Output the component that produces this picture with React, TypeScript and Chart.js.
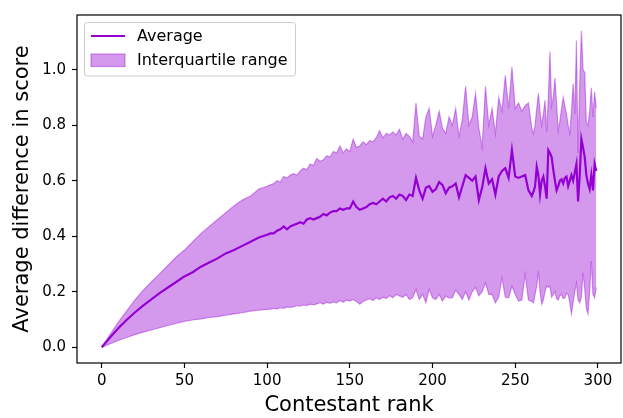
import React, { useEffect, useRef } from "react";
import { Chart, registerables } from "chart.js";

Chart.register(...registerables);

// Contestant ranks (x values)
const ranks = [
  0, 5, 10, 15, 20, 25, 30, 35, 40, 45, 50, 55, 60, 65, 70, 75, 80, 85, 90, 95, 100,
  102, 104, 106, 108, 110, 112, 114, 116, 118, 120, 122, 124, 126, 128, 130, 132, 134, 136, 138, 140,
  142, 144, 146, 148, 150, 152, 154, 156, 158, 160, 162, 164, 166, 168, 170, 172, 174, 176, 178, 180,
  182, 184, 186, 188, 190, 192, 194, 196, 198, 200, 202, 204, 206, 208, 210, 212, 214, 216, 218, 220,
  222, 224, 226, 228, 230, 232, 234, 236, 238, 240, 242, 244, 246, 248, 250, 252, 254, 256, 258, 260,
  261, 262, 263, 264, 265, 266, 267, 268, 269, 270, 271, 272, 273, 274, 275, 276, 277, 278, 279, 280,
  281, 282, 283, 284, 285, 286, 287, 288, 289, 290, 291, 292, 293, 294, 295, 296, 297, 298, 299,
];

// Average difference in score
const average = [
  0, 0.035, 0.068, 0.098, 0.125, 0.15, 0.172, 0.195, 0.215, 0.235, 0.255, 0.27, 0.29, 0.305, 0.32, 0.338, 0.35, 0.365, 0.38, 0.395, 0.405,
  0.41, 0.41, 0.42, 0.425, 0.435, 0.425, 0.435, 0.44, 0.445, 0.45, 0.445, 0.46, 0.465, 0.46, 0.465, 0.47, 0.48, 0.475, 0.485, 0.49,
  0.49, 0.5, 0.495, 0.5, 0.5, 0.525, 0.505, 0.495, 0.5, 0.505, 0.515, 0.52, 0.515, 0.525, 0.535, 0.525, 0.54, 0.545, 0.535, 0.55,
  0.545, 0.53, 0.55, 0.545, 0.61, 0.565, 0.535, 0.575, 0.58, 0.56, 0.57, 0.595, 0.585, 0.555, 0.575, 0.58, 0.59, 0.54, 0.58, 0.62,
  0.61, 0.6, 0.615, 0.53, 0.575, 0.645, 0.59, 0.605, 0.55, 0.615, 0.635, 0.645, 0.61, 0.71, 0.615, 0.61, 0.615, 0.62, 0.565, 0.545,
  0.56, 0.58, 0.65, 0.62, 0.55, 0.6, 0.615, 0.58, 0.535, 0.71, 0.7, 0.685, 0.64, 0.6, 0.565, 0.58, 0.6, 0.605, 0.59, 0.61,
  0.615, 0.58, 0.6, 0.62, 0.6, 0.63, 0.66, 0.525, 0.62, 0.75, 0.72, 0.685, 0.62, 0.59, 0.57, 0.62, 0.565, 0.66, 0.635,
];

// Lower quartile (Q1)
const q1 = [
  0, 0.012, 0.024, 0.035, 0.045, 0.054, 0.062, 0.07, 0.078, 0.086, 0.093, 0.098, 0.102, 0.107, 0.11, 0.115, 0.12, 0.124, 0.13, 0.133, 0.136,
  0.137, 0.14, 0.138, 0.142, 0.14, 0.145, 0.143, 0.146, 0.15, 0.148, 0.152, 0.15, 0.155, 0.152, 0.156, 0.16, 0.155, 0.162, 0.158, 0.163,
  0.16, 0.168, 0.162, 0.17, 0.166, 0.172, 0.165, 0.155, 0.165, 0.17, 0.175, 0.168, 0.178, 0.172, 0.18, 0.175, 0.185, 0.178, 0.19, 0.185,
  0.18, 0.19, 0.172, 0.178, 0.208, 0.172, 0.19, 0.16, 0.208, 0.178, 0.172, 0.19, 0.166, 0.184, 0.178, 0.178, 0.205, 0.19, 0.172, 0.2,
  0.17, 0.2, 0.215, 0.185, 0.2, 0.232, 0.19, 0.19, 0.16, 0.18, 0.25, 0.18, 0.178, 0.22, 0.19, 0.166, 0.17, 0.262, 0.17, 0.165,
  0.16, 0.19, 0.22, 0.273, 0.2, 0.155, 0.17, 0.2, 0.22, 0.215, 0.22, 0.18, 0.19, 0.2, 0.175, 0.17, 0.185, 0.19, 0.175, 0.178,
  0.195, 0.19, 0.16, 0.12, 0.16, 0.2, 0.23, 0.17, 0.16, 0.18, 0.268, 0.21, 0.14, 0.12, 0.2, 0.31, 0.19, 0.178, 0.215,
];

// Upper quartile (Q3)
const q3 = [
  0, 0.045, 0.09, 0.13, 0.17, 0.205, 0.235, 0.265, 0.295, 0.325, 0.35, 0.38, 0.41, 0.435, 0.46, 0.485, 0.51, 0.53, 0.545, 0.57, 0.58,
  0.585, 0.59, 0.6, 0.595, 0.615, 0.61, 0.62, 0.625, 0.62, 0.635, 0.645, 0.64, 0.66, 0.655, 0.68, 0.67, 0.675, 0.69, 0.685, 0.705,
  0.7, 0.725, 0.7, 0.715, 0.705, 0.75, 0.72, 0.725, 0.74, 0.73, 0.745, 0.74, 0.755, 0.78, 0.755, 0.77, 0.765, 0.775, 0.765, 0.785,
  0.75, 0.77, 0.76, 0.74, 0.88, 0.76, 0.75, 0.83, 0.86, 0.76, 0.8, 0.85, 0.79, 0.77, 0.83, 0.8, 0.86, 0.76, 0.82, 0.94,
  0.8, 0.83, 0.915, 0.79, 0.72, 0.94, 0.8, 0.86, 0.77, 0.9, 0.85, 0.98, 0.86, 1.01, 0.86, 0.88, 0.85, 0.87, 0.88, 0.79,
  0.77, 0.8, 0.86, 0.915, 0.85, 0.8, 0.84, 0.89, 0.776, 0.9, 1.065, 0.87, 0.9, 0.97, 0.88, 0.78, 0.815, 0.86, 0.9, 0.87,
  0.84, 0.8, 0.77, 0.85, 0.95, 0.84, 1.105, 0.7, 0.95, 1.14, 1.0, 0.99, 0.81, 0.8, 0.85, 0.935, 0.83, 0.92, 0.86,
];

const xTicks = [0, 50, 100, 150, 200, 250, 300];
const yTicks = [0, 0.2, 0.4, 0.6, 0.8, 1.0];
const seriesLabels = ["Average", "Interquartile range"];
const xTitle = "Contestant rank";
const yTitle = "Average difference in score";

const FONT = "'DejaVu Sans', sans-serif";
const VIOLET = "#9400d3";
const BAND = "rgba(148,0,211,0.4)";

export default function App() {
  const ref = useRef<HTMLCanvasElement>(null);

  useEffect(() => {
    document.body.style.margin = "0";
    const canvas = ref.current;
    if (!canvas) return;

    const framePlugin = {
      id: "frame",
      afterDatasetsDraw(chart: any) {
        const { ctx } = chart;
        const { left, top, right, bottom } = chart.chartArea;
        ctx.save();
        ctx.strokeStyle = "#000";
        ctx.lineWidth = 1.2;
        ctx.strokeRect(left, top, right - left, bottom - top);
        ctx.restore();
      },
    };

    const legendPlugin = {
      id: "mplLegend",
      afterDraw(chart: any) {
        const { ctx } = chart;
        const { left, top } = chart.chartArea;
        const bx = left + 7.5;
        const by = top + 7.5;
        const bw = 211;
        const bh = 53.5;
        ctx.save();
        ctx.beginPath();
        if ((ctx as any).roundRect) (ctx as any).roundRect(bx, by, bw, bh, 3);
        else ctx.rect(bx, by, bw, bh);
        ctx.fillStyle = "rgba(255,255,255,0.8)";
        ctx.fill();
        ctx.strokeStyle = "#cccccc";
        ctx.lineWidth = 1;
        ctx.stroke();

        // line sample
        ctx.beginPath();
        ctx.moveTo(bx + 6.5, by + 13.5);
        ctx.lineTo(bx + 40.5, by + 13.5);
        ctx.strokeStyle = VIOLET;
        ctx.lineWidth = 2.2;
        ctx.stroke();

        // patch sample
        ctx.fillStyle = BAND;
        ctx.fillRect(bx + 6.5, by + 31.5, 34, 12.5);
        ctx.strokeStyle = BAND;
        ctx.lineWidth = 1.2;
        ctx.strokeRect(bx + 6.5, by + 31.5, 34, 12.5);

        ctx.fillStyle = "#000";
        ctx.font = `16px ${FONT}`;
        ctx.textAlign = "left";
        ctx.textBaseline = "middle";
        ctx.fillText(seriesLabels[0], bx + 52.5, by + 14);
        ctx.fillText(seriesLabels[1], bx + 52.5, by + 38.5);
        ctx.restore();
      },
    };

    const toPts = (arr: number[]) => ranks.map((r, i) => ({ x: r, y: arr[i] }));

    const chart = new Chart(canvas, {
      type: "line",
      data: {
        datasets: [
          {
            label: seriesLabels[0],
            data: toPts(average),
            borderColor: VIOLET,
            borderWidth: 2.2,
            pointRadius: 0,
            fill: false,
            tension: 0,
          },
          {
            label: seriesLabels[1],
            data: toPts(q3),
            borderColor: BAND,
            backgroundColor: BAND,
            borderWidth: 1.2,
            pointRadius: 0,
            fill: "+1",
            tension: 0,
          },
          {
            label: "Q1",
            data: toPts(q1),
            borderColor: BAND,
            backgroundColor: BAND,
            borderWidth: 1.2,
            pointRadius: 0,
            fill: false,
            tension: 0,
          },
        ],
      },
      options: {
        responsive: false,
        animation: false,
        devicePixelRatio: 1,
        layout: { padding: { top: 10, right: 2, left: 0, bottom: 0 } },
        plugins: {
          legend: { display: false },
          tooltip: { enabled: false },
        },
        scales: {
          x: {
            type: "linear",
            min: -14.95,
            max: 313.95,
            afterBuildTicks: (s: any) => {
              s.ticks = xTicks.map((v) => ({ value: v }));
            },
            afterFit: (s: any) => {
              s.height = 55;
            },
            grid: {
              display: true,
              drawOnChartArea: false,
              drawTicks: true,
              tickLength: 5,
              tickColor: "#000",
              tickWidth: 1.2,
            },
            border: { display: false },
            ticks: {
              color: "#000",
              font: { family: FONT, size: 15 },
              padding: 4,
              maxRotation: 0,
              autoSkip: false,
              callback: (v: any) => String(v),
            },
            title: {
              display: true,
              text: xTitle,
              color: "#000",
              font: { family: FONT, size: 21 },
              padding: { top: 0, bottom: 0 },
            },
          },
          y: {
            type: "linear",
            min: -0.057,
            max: 1.197,
            afterBuildTicks: (s: any) => {
              s.ticks = yTicks.map((v) => ({ value: v }));
            },
            afterFit: (s: any) => {
              s.width = 77;
            },
            grid: {
              display: true,
              drawOnChartArea: false,
              drawTicks: true,
              tickLength: 5,
              tickColor: "#000",
              tickWidth: 1.2,
            },
            border: { display: false },
            ticks: {
              color: "#000",
              font: { family: FONT, size: 15 },
              padding: 6,
              autoSkip: false,
              callback: (v: any) => Number(v).toFixed(1),
            },
            title: {
              display: true,
              text: yTitle,
              color: "#000",
              font: { family: FONT, size: 21 },
              padding: { top: 10, bottom: 0 },
            },
          },
        },
      },
      plugins: [framePlugin, legendPlugin],
    } as any);

    return () => chart.destroy();
  }, []);

  return <canvas ref={ref} width={623} height={418} style={{ display: "block" }} />;
}
